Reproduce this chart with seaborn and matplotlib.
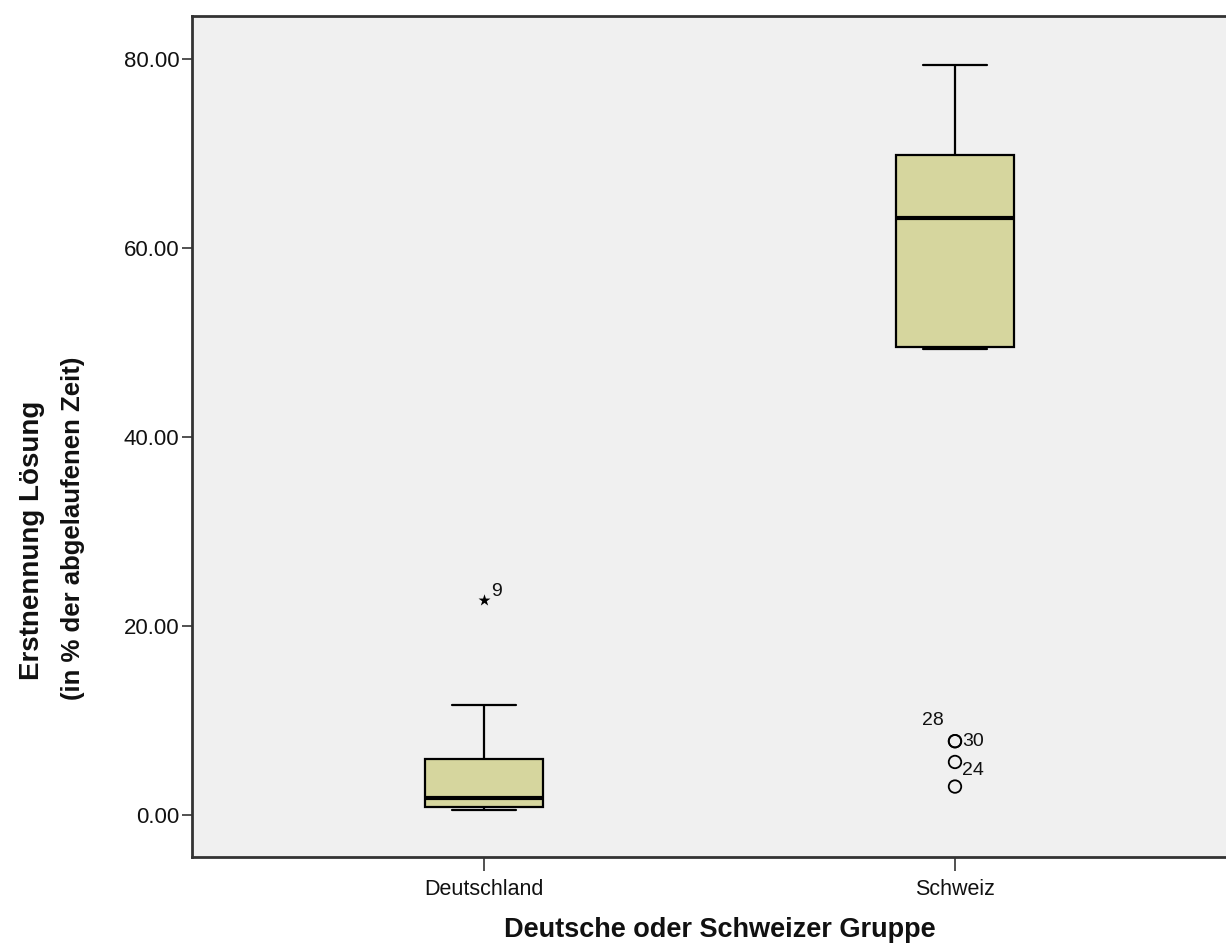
import pandas as pd
import seaborn as sns
import matplotlib.pyplot as plt
from matplotlib.ticker import FuncFormatter

sns.set_theme(style="white")
plt.rcParams["font.family"] = ["Liberation Sans", "DejaVu Sans"]
plt.rcParams["text.color"] = "#111111"

# values (% of elapsed time)
groups = ["Deutschland", "Schweiz"]
deutschland = [0.5, 0.6, 0.7, 0.85, 1.0, 1.4, 1.8, 2.6, 4.2, 5.9, 7.5, 11.6, 22.7]
schweiz = [3.0, 5.6, 7.8, 7.8, 49.3, 49.5, 51.0, 54.0, 57.0, 60.5, 63.1,
           64.5, 66.0, 67.5, 68.8, 69.8, 71.5, 74.0, 76.5, 78.0, 79.3]

# outliers marked by SPSS: circles (mild) and stars (extreme)
mild_group = ["Schweiz", "Schweiz", "Schweiz", "Schweiz"]
mild_value = [3.0, 5.6, 7.8, 7.8]
extreme_group = ["Deutschland"]
extreme_value = [22.7]
case_labels = [("Deutschland", 22.7, "9"), ("Schweiz", 7.8, "30"),
               ("Schweiz", 5.6, "24"), ("Schweiz", 10.0, "28")]

df = pd.DataFrame({
    "group": ["Deutschland"] * len(deutschland) + ["Schweiz"] * len(schweiz),
    "value": deutschland + schweiz,
})

fig = plt.figure(figsize=(12.26, 9.43), dpi=100)
ax = fig.add_axes([192 / 1226, 1 - 857 / 943, 1055 / 1226, 841 / 943])
ax.set_facecolor("#f0f0f0")

sns.boxplot(data=df, x="group", y="value", order=groups, ax=ax,
            color="#d6d69e", width=0.25, showfliers=False, saturation=1,
            linewidth=1.6, linecolor="black",
            medianprops={"linewidth": 3, "color": "black"},
            capwidths=0.135)

sns.stripplot(x=mild_group, y=mild_value, order=groups, ax=ax, jitter=False,
              marker="o", size=9, facecolor="none", edgecolor="black",
              linewidth=1.3, color="black")
sns.stripplot(x=extreme_group, y=extreme_value, order=groups, ax=ax,
              jitter=False, marker="*", size=9, color="black", linewidth=0)

for grp, val, lab in case_labels:
    xpos = groups.index(grp)
    if lab == "28":
        ax.text(xpos - 0.07, val, lab, fontsize=14, ha="left", va="center")
    elif lab == "24":
        ax.text(xpos + 0.015, val - 0.9, lab, fontsize=14, ha="left",
                va="center")
    else:
        ax.text(xpos + 0.015, val + 0.9 if lab == "9" else val, lab,
                fontsize=14, ha="left", va="center")

ax.set_xlim(-0.62, 1.62)
ax.set_ylim(-4.45, 84.5)
ax.set_yticks([0, 20, 40, 60, 80])
ax.yaxis.set_major_formatter(FuncFormatter(lambda v, p: f"{v:.2f}"))
ax.tick_params(axis="y", left=True, length=7, width=1.2, labelsize=16,
               color="#333333", labelcolor="#111111", pad=2)
ax.tick_params(axis="x", bottom=True, length=10, width=1.2, labelsize=15.5,
               color="#333333", labelcolor="#111111", pad=6)
for side in ["top", "bottom", "left", "right"]:
    ax.spines[side].set_color("#333333")
    ax.spines[side].set_linewidth(2)

ax.set_xlabel("Deutsche oder Schweizer Gruppe", fontsize=19.5,
              fontweight="bold", labelpad=12, color="#111111")
ax.set_ylabel("")
fig.text(32 / 1226, 1 - 540 / 943, "Erstnennung Lösung", rotation=90,
         fontsize=20, fontweight="bold", ha="center", va="center")
fig.text(73 / 1226, 1 - 528 / 943, "(in % der abgelaufenen Zeit)",
         rotation=90, fontsize=18.5, fontweight="bold", ha="center",
         va="center")

fig.savefig("out.png", dpi=100, facecolor="white")
